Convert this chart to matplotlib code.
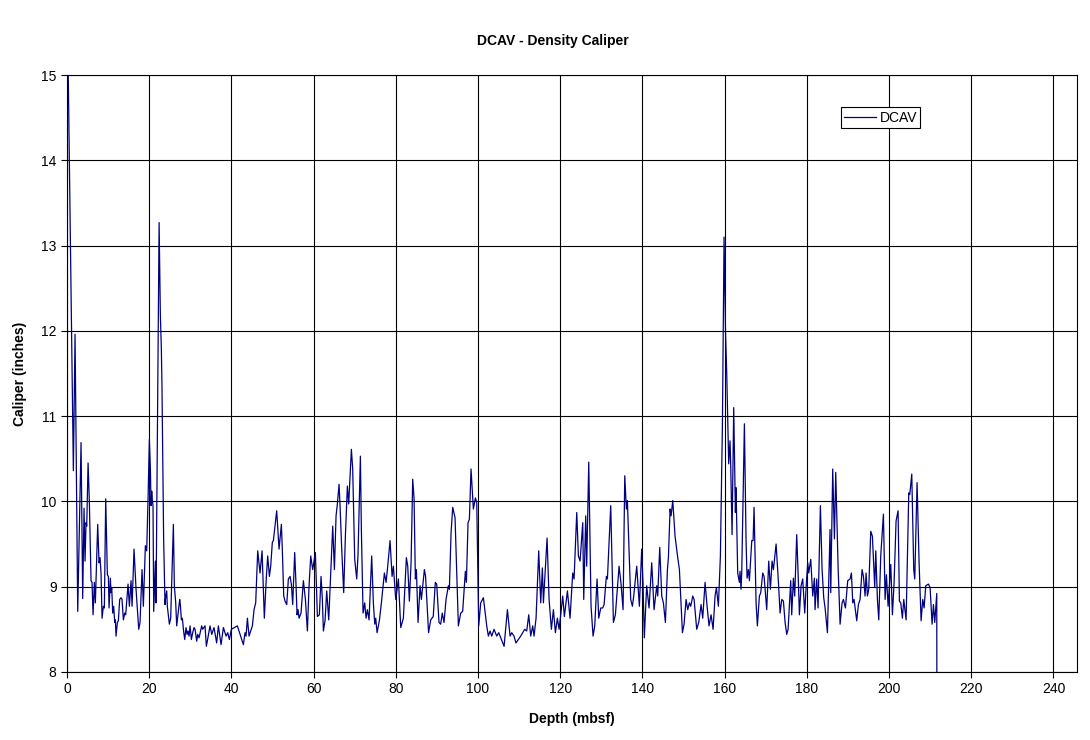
import matplotlib
matplotlib.use("Agg")
import matplotlib.pyplot as plt

plt.rcParams['font.family'] = ['Liberation Sans', 'DejaVu Sans']

# DCAV log: depth (mbsf) and caliper (inches)
depth = [
    0.3, 1.54, 1.95, 2.6, 3.41, 3.81, 4.14, 4.38, 4.62, 4.79, 5.12, 5.43, 5.84, 6.08, 6.33, 6.65, 6.89,
    7.46, 7.79, 8.03, 8.27, 8.52, 8.84, 9.08, 9.41, 9.81, 10.06, 10.22, 10.54, 10.71, 10.87, 11.11,
    11.35, 11.6, 11.76, 11.92, 12.25, 12.49, 12.81, 13.14, 13.38, 13.71, 14.03, 14.27, 14.84, 15.17,
    15.57, 15.82, 16.3, 16.79, 17.19, 17.44, 17.76, 18.25, 18.57, 19.06, 19.38, 19.71, 20.03, 20.28,
    20.44, 20.6, 20.76,
    20.92, 21.09, 21.49, 21.65, 22.0, 22.4, 22.7, 22.95, 23.1, 23.5, 23.84, 23.93, 24.25, 24.4, 24.9,
    25.22, 25.87, 26.11, 26.44, 26.68, 27.41, 27.57, 27.82, 28.06, 28.31, 28.63, 28.95, 29.2, 29.44,
    29.68, 29.93, 30.25, 30.57, 30.9, 31.14, 31.55, 31.79, 32.12, 32.76, 33.0, 33.57, 33.9, 34.79,
    35.2, 35.76, 36.4, 36.82, 37.47, 38.04, 38.69, 39.09, 39.5, 39.98, 41.44,
    42.5, 42.9, 43.3, 43.55, 43.88, 44.28, 44.69, 45.09, 45.5, 45.9, 46.39, 46.96, 47.45, 48.0, 48.5,
    48.82, 49.23, 49.55, 49.95, 50.2, 51.01, 51.58, 52.15, 52.39, 52.72, 53.04, 53.45, 53.85, 54.26,
    54.58, 54.9, 55.39, 55.72, 55.96, 56.2, 56.45, 56.93, 57.5, 57.99, 58.48, 58.88, 59.29, 59.77,
    60.42, 60.91, 61.39, 61.8, 62.12, 62.37, 62.77, 63.18, 63.67, 64.64, 65.05,
    65.45, 65.77, 66.18, 66.42, 66.83, 67.31, 67.72, 68.2, 68.53, 69.18, 69.5, 69.99, 70.48, 70.8,
    71.37, 71.61, 72.02, 72.42, 72.75, 73.07, 73.48, 74.12, 74.53, 74.86, 75.1, 75.43, 75.99, 76.48,
    77.21, 77.62, 77.94, 78.59, 79.08, 79.4, 79.97, 80.62, 81.19, 81.83, 82.56, 82.89, 83.29, 83.7,
    84.1, 84.43, 84.75, 85.0, 85.4, 85.89, 86.21, 86.94,
    87.23, 87.96, 88.48, 89.1, 89.6, 89.94, 90.5, 90.9, 91.3, 91.72, 92.21, 92.78, 93.02, 93.43,
    93.83, 94.4, 95.21, 95.78, 96.26, 96.91, 97.16, 97.56, 97.89, 98.29, 98.86, 99.35, 99.68, 100.16,
    100.65, 101.3, 102.11, 102.51, 102.92, 103.33, 103.89, 104.54, 105.03, 106.33, 107.14, 107.79,
    108.19,
    108.75, 109.22, 109.81, 110.37, 110.87, 111.35, 111.84, 112.33, 112.81, 113.3, 113.62, 114.11,
    114.76, 115.25, 115.65, 115.9, 116.79, 117.28, 117.84, 118.33, 118.82, 119.3, 119.71, 120.11,
    120.6, 121.0, 121.74, 122.38, 123.03, 123.36, 124.01, 124.41, 124.82, 125.47, 125.71, 126.19,
    126.43, 126.93, 127.49, 127.98, 128.39, 128.95, 129.36, 129.85,
    130.33, 130.66, 131.22, 131.47, 132.28, 132.93, 133.41, 134.31, 134.79, 135.28, 135.69, 136.09,
    136.33, 137.14, 137.55, 137.87, 138.6, 139.25, 139.81, 140.13, 140.45, 141.02, 141.6, 142.25,
    142.82, 143.47, 143.71, 144.2, 144.69, 145.09, 145.58, 146.07, 146.31, 146.72, 146.96, 147.37,
    147.93, 148.58, 148.99, 149.72, 150.12, 150.61, 151.01, 151.42, 151.74, 152.23,
    152.56, 153.2, 153.69, 154.26, 154.66, 155.23, 155.72, 156.2, 156.69, 157.18, 157.66, 157.99,
    158.47, 158.96, 159.45, 159.85, 160.2, 160.5, 160.98, 161.3, 161.47, 161.8, 162.2, 162.61,
    162.77, 163.17, 163.58, 163.74, 163.98, 164.15, 164.8, 165.21, 165.45, 165.77, 166.02, 166.59,
    166.91, 167.15, 167.4, 167.64, 167.96, 168.45, 168.78, 169.26, 169.59, 170.23, 170.72, 171.13,
    171.53, 171.86, 172.51, 173.08, 173.48, 173.89,
    174.29, 174.7, 175.1, 175.43, 176.07, 176.31, 176.72, 177.04, 177.53, 177.94, 178.18, 178.59,
    178.99, 179.48, 179.81, 180.21, 180.45, 180.94, 181.43, 181.83, 181.99, 182.4, 182.72, 183.29,
    183.7, 184.1, 184.43, 185.0, 185.32, 185.64, 185.81, 186.29, 186.7, 187.02, 187.59, 188.08,
    188.56, 188.89, 189.38, 189.94, 190.51, 190.84, 191.16, 191.48, 192.13, 192.54, 192.94, 193.43,
    193.76, 194.16, 194.4, 194.73, 195.05, 195.54, 195.94, 196.51,
    196.76, 197.16, 197.49, 197.97, 198.62, 199.03, 199.35, 199.76, 200.41, 200.81, 201.22, 201.7,
    202.19, 202.51, 202.84, 203.24, 203.57, 204.14, 204.79, 205.03, 205.52, 206.0, 206.25, 206.81,
    207.3, 207.79, 208.19, 208.52, 208.92, 209.57, 209.98, 210.46, 210.79, 211.11, 211.6, 211.62,
]

dcav = [
    14.98, 10.36, 11.96, 8.71, 10.69, 8.86, 9.92, 9.30, 9.75, 9.71, 10.45, 9.99, 9.07, 9.05, 8.67, 9.05, 8.81,
    9.73, 9.28, 9.34, 9.16, 8.63, 8.77, 8.75, 10.03, 9.14, 9.12, 8.75, 9.10, 8.93, 8.99, 8.69,
    8.77, 8.58, 8.61, 8.42, 8.58, 8.60, 8.85, 8.87, 8.85, 8.61, 8.69, 8.67, 9.03, 8.77,
    9.07, 8.77, 9.44, 8.97, 8.69, 8.50, 8.58, 9.20, 8.77, 9.48, 9.42, 10.03, 10.73, 10.38,
    9.95, 10.12, 10.01,
    9.95, 8.71, 9.30, 8.81, 10.9, 13.27, 12.2, 11.78, 11.34, 9.56, 8.79, 8.85, 8.95, 8.77, 8.56,
    8.63, 9.73, 9.01, 8.81, 8.54, 8.85, 8.79, 8.61, 8.63, 8.50, 8.38, 8.52, 8.44, 8.48,
    8.42, 8.54, 8.38, 8.46, 8.52, 8.50, 8.36, 8.44, 8.40, 8.54, 8.50, 8.54, 8.30, 8.54,
    8.44, 8.52, 8.34, 8.54, 8.32, 8.52, 8.42, 8.46, 8.38, 8.50, 8.54,
    8.38, 8.32, 8.46, 8.42, 8.63, 8.42, 8.48, 8.54, 8.73, 8.81, 9.42, 9.16, 9.42, 8.63, 9.12,
    9.36, 9.12, 9.24, 9.52, 9.54, 9.89, 9.44, 9.73, 9.42, 8.89, 8.83, 8.79, 9.09, 9.12,
    9.03, 8.79, 9.40, 9.01, 8.67, 8.73, 8.63, 8.69, 9.07, 8.85, 8.48, 9.01, 9.36, 9.20,
    9.40, 8.65, 8.67, 9.12, 8.85, 8.48, 8.60, 8.95, 8.61, 9.71, 9.20,
    9.83, 9.97, 10.20, 9.95, 9.44, 8.93, 9.59, 10.18, 9.97, 10.61, 10.38, 9.32, 9.09, 9.38,
    10.53, 9.67, 8.69, 8.81, 8.63, 8.73, 8.61, 9.36, 8.81, 8.56, 8.63, 8.46, 8.60, 8.81,
    9.16, 9.05, 9.20, 9.54, 9.12, 9.24, 8.85, 9.09, 8.52, 8.63, 9.34, 9.24, 8.83, 9.28,
    10.26, 10.03, 9.09, 9.20, 8.58, 9.01, 8.85, 9.20,
    9.12, 8.46, 8.61, 8.65, 9.05, 9.03, 8.58, 8.56, 8.69, 8.58, 8.85, 9.01, 8.97, 9.63,
    9.93, 9.81, 8.54, 8.69, 8.71, 9.18, 9.05, 9.75, 9.79, 10.38, 9.91, 10.04, 9.99, 8.54,
    8.81, 8.87, 8.54, 8.42, 8.48, 8.42, 8.50, 8.42, 8.46, 8.30, 8.73, 8.42,
    8.46,
    8.42, 8.34, 8.38, 8.42, 8.46, 8.50, 8.48, 8.67, 8.42, 8.54, 8.42, 8.63,
    9.42, 8.81, 9.22, 8.81, 9.57, 8.85, 8.50, 8.73, 8.46, 8.63, 8.50, 8.67,
    8.89, 8.65, 8.95, 8.63, 9.16, 9.09, 9.87, 9.36, 9.30, 9.75, 8.85, 9.83,
    9.24, 10.46, 8.77, 8.42, 8.54, 9.09, 8.63, 8.75,
    8.75, 8.79, 9.12, 9.09, 9.95, 8.58, 8.67, 9.24, 9.03, 8.73, 10.30, 9.91,
    10.01, 8.85, 8.77, 8.89, 9.24, 8.77, 9.44, 9.05, 8.40, 9.01, 8.75, 9.28,
    8.73, 9.01, 8.89, 9.46, 8.89, 8.81, 8.58, 9.20, 9.34, 9.91, 9.83, 10.01,
    9.59, 9.34, 9.20, 8.46, 8.56, 8.85, 8.73, 8.81, 8.77, 8.89,
    8.85, 8.50, 8.58, 8.79, 8.63, 9.05, 8.77, 8.54, 8.67, 8.50, 8.89, 8.99,
    8.77, 9.36, 10.9, 13.10, 12.0, 11.5, 10.44, 10.71, 10.42, 9.61, 11.10, 9.87,
    10.16, 9.16, 9.05, 9.18, 8.97, 9.16, 10.91, 9.52, 9.10, 9.20, 9.07, 9.54,
    9.54, 9.93, 9.36, 8.81, 8.54, 8.89, 8.93, 9.16, 9.12, 8.73, 9.30, 8.97,
    9.30, 9.20, 9.50, 9.05, 8.69, 8.85,
    8.83, 8.58, 8.44, 8.50, 9.07, 8.67, 9.10, 8.89, 9.61, 9.05, 8.67, 9.01,
    9.09, 8.69, 8.99, 9.28, 9.16, 9.32, 8.89, 9.10, 8.73, 9.09, 8.75, 9.95,
    9.20, 8.87, 8.75, 8.46, 9.05, 9.67, 8.93, 10.38, 9.56, 10.34, 9.24, 8.56,
    8.81, 8.85, 8.75, 9.07, 9.09, 9.16, 8.81, 8.85, 8.60, 8.79, 8.85, 9.20,
    9.12, 8.89, 9.16, 8.89, 8.97, 9.65, 9.59, 8.99,
    9.42, 8.85, 8.61, 9.36, 9.85, 8.85, 9.14, 8.77, 9.26, 8.67, 9.05, 9.77,
    9.89, 8.83, 8.81, 8.63, 8.85, 8.61, 10.10, 10.08, 10.32, 9.20, 9.09, 10.22,
    9.28, 8.60, 8.85, 8.75, 9.01, 9.03, 8.99, 8.56, 8.79, 8.58, 8.92, 8.0,
]

x_ticks = list(range(0, 241, 20))
y_ticks = list(range(8, 16))

fig = plt.figure(figsize=(10.9, 7.4), dpi=100)
ax = fig.add_axes([0.0615, 0.092, 0.9265, 0.8066])

ax.plot(depth, dcav, color='#000080', lw=0.9, label='DCAV')

ax.set_xlim(0, 245.7)
ax.set_ylim(8, 15)
ax.set_xticks(x_ticks)
ax.set_yticks(y_ticks)
ax.grid(True, color='black', lw=0.8)
ax.set_axisbelow(True)
ax.tick_params(direction='out', length=4, width=0.8, labelsize=10, colors='black')
for s in ax.spines.values():
    s.set_color('black')
    s.set_linewidth(0.8)

ax.set_xlabel('Depth (mbsf)', fontsize=10, fontweight='bold', labelpad=11)
ax.set_ylabel('Caliper (inches)', fontsize=10, fontweight='bold', labelpad=10)
fig.text(0.507, 0.945, 'DCAV - Density Caliper', ha='center', va='center',
         fontsize=10, fontweight='bold')

leg = ax.legend(loc='upper right', bbox_to_anchor=(0.845, 0.946), fontsize=10,
                fancybox=False, framealpha=1, edgecolor='black', handlelength=2.3,
                handletextpad=0.25, borderpad=0.25, borderaxespad=0)
leg.get_frame().set_linewidth(0.8)

fig.savefig('out.png', dpi=100)
